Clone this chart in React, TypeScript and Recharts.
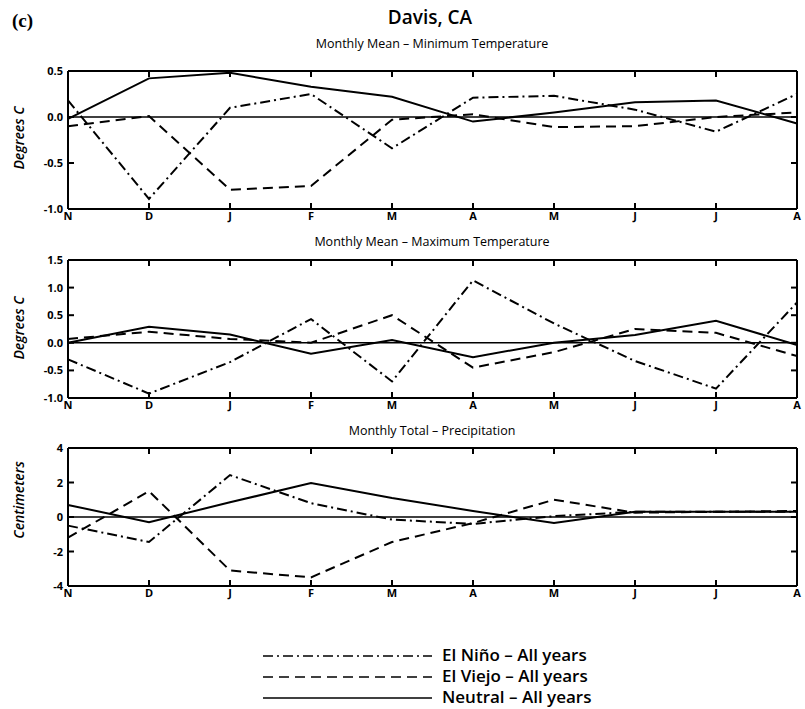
import React from 'react';
import { LineChart, Line, XAxis, YAxis, ReferenceLine } from 'recharts';

const months = ['N', 'D', 'J', 'F', 'M', 'A', 'M', 'J', 'J', 'A'];

// Monthly Mean – Minimum Temperature (deg C)
const minNino = [0.18, -0.89, 0.1, 0.25, -0.34, 0.21, 0.23, 0.08, -0.16, 0.25];
const minViejo = [-0.1, 0.01, -0.79, -0.75, -0.03, 0.03, -0.11, -0.1, 0.0, 0.05];
const minNeutral = [-0.02, 0.42, 0.48, 0.33, 0.22, -0.05, 0.05, 0.16, 0.18, -0.07];

// Monthly Mean – Maximum Temperature (deg C)
const maxNino = [-0.3, -0.92, -0.35, 0.43, -0.7, 1.13, 0.35, -0.33, -0.83, 0.73];
const maxViejo = [0.07, 0.2, 0.07, 0.0, 0.5, -0.45, -0.17, 0.25, 0.18, -0.24];
const maxNeutral = [0.0, 0.29, 0.15, -0.2, 0.05, -0.26, 0.0, 0.14, 0.4, -0.04];

// Monthly Total – Precipitation (cm)
const prNino = [-0.5, -1.45, 2.43, 0.8, -0.15, -0.4, 0.05, 0.3, 0.3, 0.3];
const prViejo = [-1.2, 1.5, -3.1, -3.5, -1.45, -0.35, 1.0, 0.25, 0.3, 0.35];
const prNeutral = [0.7, -0.3, 0.85, 1.97, 1.1, 0.35, -0.35, 0.3, 0.3, 0.3];

const minTicks = [-1, -0.5, 0, 0.5];
const maxTicks = [-1, -0.5, 0, 0.5, 1, 1.5];
const prTicks = [-4, -2, 0, 2, 4];

const build = (nino: number[], viejo: number[], neutral: number[]) =>
  months.map((m, i) => ({ m, nino: nino[i], viejo: viejo[i], neutral: neutral[i] }));

const FONT = '"Open Sans", "Noto Sans", sans-serif';
const axisStyle = { stroke: '#000', strokeWidth: 2 };
const NINO_DASH = '10 4 2 4';
const VIEJO_DASH = '10 6';

const BottomTick = (props: any) => {
  const { x, y, payload } = props;
  return (
    <g>
      <line x1={x} y1={y} x2={x} y2={y - 6} stroke="#000" strokeWidth={2} />
      <text x={x} y={y + 11} textAnchor="middle" fontSize={11} fontWeight={700} fontFamily={FONT} fill="#000">
        {payload.value}
      </text>
    </g>
  );
};

const TopTick = (props: any) => {
  const { x, y } = props;
  return <line x1={x} y1={y} x2={x} y2={y + 6} stroke="#000" strokeWidth={2} />;
};

const LeftTick = (props: any) => {
  const { x, y, payload, fmt } = props;
  return (
    <g>
      <line x1={x} y1={y} x2={x + 6} y2={y} stroke="#000" strokeWidth={2} />
      <text x={x - 5} y={y + 4} textAnchor="end" fontSize={11} fontWeight={700} fontFamily={FONT} fill="#000">
        {fmt(payload.value)}
      </text>
    </g>
  );
};

const RightTick = (props: any) => {
  const { x, y } = props;
  return <line x1={x} y1={y} x2={x - 6} y2={y} stroke="#000" strokeWidth={2} />;
};

type PanelProps = {
  top: number;
  data: any[];
  domain: [number, number];
  ticks: number[];
  fmt: (v: number) => string;
};

function Panel({ top, data, domain, ticks, fmt }: PanelProps) {
  return (
    <div style={{ position: 'absolute', left: 0, top, width: 805, height: 170 }}>
      <LineChart width={805} height={170} data={data} margin={{ top: 10, right: 7, bottom: 1, left: 0 }}>
        <XAxis xAxisId="b" dataKey="m" orientation="bottom" height={20} interval={0} tickSize={0} tickMargin={0}
          tickLine={false} axisLine={axisStyle} tick={<BottomTick />} />
        <XAxis xAxisId="t" dataKey="m" orientation="top" height={1} interval={0} tickSize={0} tickMargin={0}
          tickLine={false} axisLine={axisStyle} tick={<TopTick />} />
        <YAxis yAxisId="l" orientation="left" width={68} type="number" domain={domain} ticks={ticks} interval={0}
          allowDataOverflow tickSize={0} tickMargin={0} tickLine={false} axisLine={axisStyle} tick={<LeftTick fmt={fmt} />} />
        <YAxis yAxisId="r" orientation="right" width={1} type="number" domain={domain} ticks={ticks} interval={0}
          allowDataOverflow tickSize={0} tickMargin={0} tickLine={false} axisLine={axisStyle} tick={<RightTick />} />
        <ReferenceLine xAxisId="b" yAxisId="l" y={0} stroke="#000" strokeWidth={1.5} />
        <Line xAxisId="b" yAxisId="l" type="linear" dataKey="nino" stroke="#000" strokeWidth={2}
          strokeDasharray={NINO_DASH} dot={false} isAnimationActive={false} />
        <Line xAxisId="b" yAxisId="l" type="linear" dataKey="viejo" stroke="#000" strokeWidth={2}
          strokeDasharray={VIEJO_DASH} dot={false} isAnimationActive={false} />
        <Line xAxisId="b" yAxisId="l" type="linear" dataKey="neutral" stroke="#000" strokeWidth={2}
          dot={false} isAnimationActive={false} />
        <Line xAxisId="b" yAxisId="r" type="linear" dataKey="neutral" stroke="none" strokeWidth={0}
          dot={false} activeDot={false} isAnimationActive={false} legendType="none" />
      </LineChart>
    </div>
  );
}

const legendItems = [
  { label: 'El Niño – All years', dash: NINO_DASH },
  { label: 'El Viejo – All years', dash: VIEJO_DASH },
  { label: 'Neutral – All years', dash: undefined as string | undefined },
];

export default function App() {
  const fmt1 = (v: number) => v.toFixed(1);
  const fmt0 = (v: number) => String(v);
  return (
    <div style={{ position: 'absolute', left: 0, top: 0, width: 805, height: 709, background: '#fff', overflow: 'hidden' }}>
      <Panel top={60} data={build(minNino, minViejo, minNeutral)} domain={[-1, 0.5]} ticks={minTicks} fmt={fmt1} />
      <Panel top={249} data={build(maxNino, maxViejo, maxNeutral)} domain={[-1, 1.5]} ticks={maxTicks} fmt={fmt1} />
      <Panel top={437} data={build(prNino, prViejo, prNeutral)} domain={[-4, 4]} ticks={prTicks} fmt={fmt0} />
      <svg width={805} height={709} style={{ position: 'absolute', left: 0, top: 0, pointerEvents: 'none' }}>
        <text x={12} y={27} fontFamily='"Liberation Serif", serif' fontWeight={700} fontSize={19} fill="#000">(c)</text>
        <text x={430} y={24} textAnchor="middle" fontFamily={FONT} fontWeight={600} fontSize={19} fill="#000">Davis, CA</text>
        <text x={432} y={48} textAnchor="middle" fontFamily={FONT} fontWeight={500} fontSize={12.5} fill="#000">Monthly Mean – Minimum Temperature</text>
        <text x={432} y={246} textAnchor="middle" fontFamily={FONT} fontWeight={500} fontSize={12.5} fill="#000">Monthly Mean – Maximum Temperature</text>
        <text x={432} y={435} textAnchor="middle" fontFamily={FONT} fontWeight={500} fontSize={12.5} fill="#000">Monthly Total – Precipitation</text>
        <text transform="translate(24,138) rotate(-90)" textAnchor="middle" fontFamily={FONT} fontWeight={600} fontStyle="italic" fontSize={14} fill="#000">Degrees C</text>
        <text transform="translate(24,328) rotate(-90)" textAnchor="middle" fontFamily={FONT} fontWeight={600} fontStyle="italic" fontSize={14} fill="#000">Degrees C</text>
        <text transform="translate(24,500) rotate(-90)" textAnchor="middle" fontFamily={FONT} fontWeight={600} fontStyle="italic" fontSize={14} fill="#000">Centimeters</text>
        {legendItems.map((it, i) => (
          <g key={it.label}>
            <line x1={263} x2={432} y1={656 + i * 21} y2={656 + i * 21} stroke="#000" strokeWidth={1.5} strokeDasharray={it.dash} />
            <text x={442} y={661 + i * 21} fontFamily={FONT} fontWeight={600} fontSize={17} fill="#000">{it.label}</text>
          </g>
        ))}
      </svg>
    </div>
  );
}
